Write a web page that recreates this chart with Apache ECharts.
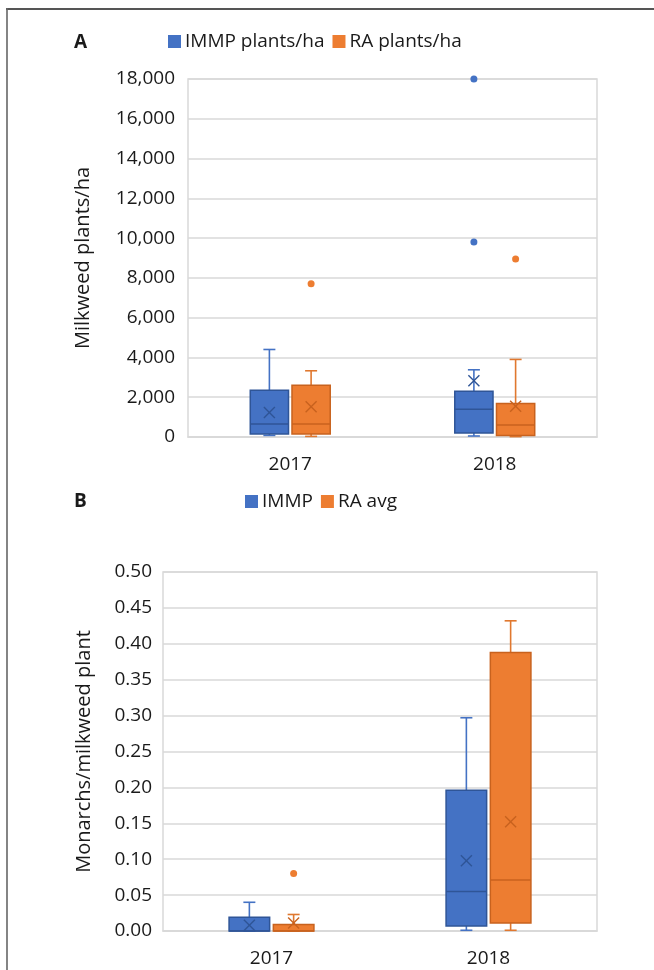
<!DOCTYPE html>
<html>
<head>
<meta charset="utf-8">
<script src="https://cdn.jsdelivr.net/npm/echarts@6/dist/echarts.min.js"></script>
<style>
html,body{margin:0;padding:0;background:#fff;}
#chart{width:654px;height:970px;}
</style>
</head>
<body>
<div id="chart"></div>
<script>
// ---- Data ----
const categories = ['2017', '2018'];

// Panel A: milkweed plants/ha  (min, Q1, median, Q3, max, mean)
const immpPlantsMin    = [80, 50];
const immpPlantsQ1     = [150, 200];
const immpPlantsMedian = [650, 1400];
const immpPlantsQ3     = [2350, 2300];
const immpPlantsMax    = [4400, 3380];
const immpPlantsMean   = [1230, 2830];
const immpPlantsOutliers = [[], [9800, 18000]];

const raPlantsMin    = [30, 20];
const raPlantsQ1     = [150, 80];
const raPlantsMedian = [650, 600];
const raPlantsQ3     = [2600, 1680];
const raPlantsMax    = [3330, 3900];
const raPlantsMean   = [1520, 1550];
const raPlantsOutliers = [[7700], [8950]];

const plantsTicks = { min: 0, max: 18000, interval: 2000 };

// Panel B: monarchs / milkweed plant
const immpMonMin    = [0, 0.001];
const immpMonQ1     = [0, 0.007];
const immpMonMedian = [0, 0.055];
const immpMonQ3     = [0.019, 0.196];
const immpMonMax    = [0.04, 0.297];
const immpMonMean   = [0.008, 0.098];
const immpMonOutliers = [[], []];

const raMonMin    = [0, 0.001];
const raMonQ1     = [0, 0.011];
const raMonMedian = [0, 0.071];
const raMonQ3     = [0.009, 0.388];
const raMonMax    = [0.023, 0.432];
const raMonMean   = [0.011, 0.152];
const raMonOutliers = [[0.08], []];

const monTicks = { min: 0, max: 0.5, interval: 0.05 };

// ---- Styling ----
const FONT = 'Open Sans';
const TXT = '#1a1a1a';
const BLUE = { fill: '#4472C4', line: '#2F5597', whisk: '#4472C4' };
const ORANGE = { fill: '#ED7D31', line: '#C8621E', whisk: '#E0782F' };

function boxRows(mins, q1, med, q3, maxs, means) {
  return categories.map((c, i) => [i, mins[i], q1[i], med[i], q3[i], maxs[i], means[i]]);
}
function outlierRows(outs) {
  const rows = [];
  outs.forEach((arr, i) => arr.forEach(v => rows.push([i, v])));
  return rows;
}

function boxRender(side, col) {
  return function (params, api) {
    const cat = api.value(0);
    const band = api.size([1, 0])[0];
    const base = api.coord([cat, 0]);
    const cx = base[0] + side * band * 0.102;
    const w = band * 0.187;
    const y = k => api.coord([cat, api.value(k)])[1];
    const yMin = y(1), yQ1 = y(2), yMed = y(3), yQ3 = y(4), yMax = y(5), yMean = y(6);
    const cap = 6;
    const ws = { stroke: col.whisk, lineWidth: 1.6 };
    const ls = { stroke: col.line, lineWidth: 1.5 };
    const m = 5.5;
    return {
      type: 'group',
      children: [
        { type: 'line', shape: { x1: cx, y1: yQ3, x2: cx, y2: yMax }, style: ws },
        { type: 'line', shape: { x1: cx - cap, y1: yMax, x2: cx + cap, y2: yMax }, style: ws },
        { type: 'line', shape: { x1: cx, y1: yQ1, x2: cx, y2: yMin }, style: ws },
        { type: 'line', shape: { x1: cx - cap, y1: yMin, x2: cx + cap, y2: yMin }, style: ws },
        { type: 'rect', shape: { x: cx - w / 2, y: yQ3, width: w, height: Math.max(yQ1 - yQ3, 0.5) },
          style: { fill: col.fill, stroke: col.line, lineWidth: 1.5 } },
        { type: 'line', shape: { x1: cx - w / 2, y1: yMed, x2: cx + w / 2, y2: yMed }, style: ls },
        { type: 'line', shape: { x1: cx - m, y1: yMean - m, x2: cx + m, y2: yMean + m }, style: { stroke: col.line, lineWidth: 1.4 } },
        { type: 'line', shape: { x1: cx - m, y1: yMean + m, x2: cx + m, y2: yMean - m }, style: { stroke: col.line, lineWidth: 1.4 } }
      ]
    };
  };
}
function outlierRender(side, col) {
  return function (params, api) {
    const cat = api.value(0);
    const band = api.size([1, 0])[0];
    const p = api.coord([cat, api.value(1)]);
    return { type: 'circle', shape: { cx: p[0] + side * band * 0.102, cy: p[1], r: 3.5 }, style: { fill: col.fill } };
  };
}

function seriesPair(name, side, col, rows, outs, gi) {
  return [
    { type: 'custom', name: name, xAxisIndex: gi, yAxisIndex: gi, itemStyle: { color: col.fill },
      renderItem: boxRender(side, col), encode: { x: 0, y: [1, 2, 3, 4, 5] }, data: rows },
    { type: 'custom', name: name, xAxisIndex: gi, yAxisIndex: gi, itemStyle: { color: col.fill },
      renderItem: outlierRender(side, col), encode: { x: 0, y: 1 }, data: outs }
  ];
}

const axisLabelStyle = { fontFamily: FONT, fontSize: 19, color: TXT };

const option = {
  animation: false,
  backgroundColor: '#fff',
  title: [
    { text: 'A', left: 69, top: 28, textStyle: { fontFamily: FONT, fontSize: 19, fontWeight: 'bold', color: TXT } },
    { text: 'B', left: 69, top: 487, textStyle: { fontFamily: FONT, fontSize: 19, fontWeight: 'bold', color: TXT } }
  ],
  legend: [
    { data: ['IMMP plants/ha', 'RA plants/ha'], left: 163, top: 27, icon: 'rect', itemWidth: 13, itemHeight: 13,
      itemGap: 8, textStyle: { fontFamily: FONT, fontSize: 19, color: TXT, padding: [0, 0, 0, -1] } },
    { data: ['IMMP', 'RA avg'], left: 240, top: 487, icon: 'rect', itemWidth: 13, itemHeight: 13,
      itemGap: 8, textStyle: { fontFamily: FONT, fontSize: 19, color: TXT, padding: [0, 0, 0, -1] } }
  ],
  grid: [
    { left: 188, right: 57, top: 79, bottom: 533, show: true, borderColor: '#d9d9d9', borderWidth: 1.5 },
    { left: 163, right: 57, top: 572, bottom: 39, show: true, borderColor: '#d9d9d9', borderWidth: 1.5 }
  ],
  xAxis: [0, 1].map(g => ({
    type: 'category', gridIndex: g, data: categories,
    axisTick: { show: false }, axisLine: { lineStyle: { color: '#d9d9d9', width: 1.5 } },
    axisLabel: Object.assign({ margin: 18 }, axisLabelStyle)
  })),
  yAxis: [
    { type: 'value', gridIndex: 0, min: plantsTicks.min, max: plantsTicks.max, interval: plantsTicks.interval,
      name: 'Milkweed plants/ha', nameLocation: 'middle', nameGap: 95, nameRotate: 90,
      nameTextStyle: { fontFamily: FONT, fontSize: 20, color: TXT },
      axisLine: { show: false }, axisTick: { show: false },
      splitLine: { lineStyle: { color: '#d9d9d9', width: 1.5 } },
      axisLabel: Object.assign({ margin: 13, formatter: v => v.toLocaleString('en-US') }, axisLabelStyle) },
    { type: 'value', gridIndex: 1, min: monTicks.min, max: monTicks.max, interval: monTicks.interval,
      name: 'Monarchs/milkweed plant', nameLocation: 'middle', nameGap: 69, nameRotate: 90,
      nameTextStyle: { fontFamily: FONT, fontSize: 20, color: TXT },
      axisLine: { show: false }, axisTick: { show: false },
      splitLine: { lineStyle: { color: '#d9d9d9', width: 1.5 } },
      axisLabel: Object.assign({ margin: 11, formatter: v => v.toFixed(2) }, axisLabelStyle) }
  ],
  graphic: [
    { type: 'line', shape: { x1: 6, y1: 9, x2: 654, y2: 9 }, style: { stroke: '#555', lineWidth: 2 } },
    { type: 'line', shape: { x1: 7, y1: 8, x2: 7, y2: 970 }, style: { stroke: '#666', lineWidth: 1.6 } }
  ],
  series: [].concat(
    seriesPair('IMMP plants/ha', -1, BLUE,
      boxRows(immpPlantsMin, immpPlantsQ1, immpPlantsMedian, immpPlantsQ3, immpPlantsMax, immpPlantsMean),
      outlierRows(immpPlantsOutliers), 0),
    seriesPair('RA plants/ha', 1, ORANGE,
      boxRows(raPlantsMin, raPlantsQ1, raPlantsMedian, raPlantsQ3, raPlantsMax, raPlantsMean),
      outlierRows(raPlantsOutliers), 0),
    seriesPair('IMMP', -1, BLUE,
      boxRows(immpMonMin, immpMonQ1, immpMonMedian, immpMonQ3, immpMonMax, immpMonMean),
      outlierRows(immpMonOutliers), 1),
    seriesPair('RA avg', 1, ORANGE,
      boxRows(raMonMin, raMonQ1, raMonMedian, raMonQ3, raMonMax, raMonMean),
      outlierRows(raMonOutliers), 1)
  )
};

const chart = echarts.init(document.getElementById('chart'), null, { renderer: 'canvas' });
chart.setOption(option);
</script>
</body>
</html>
